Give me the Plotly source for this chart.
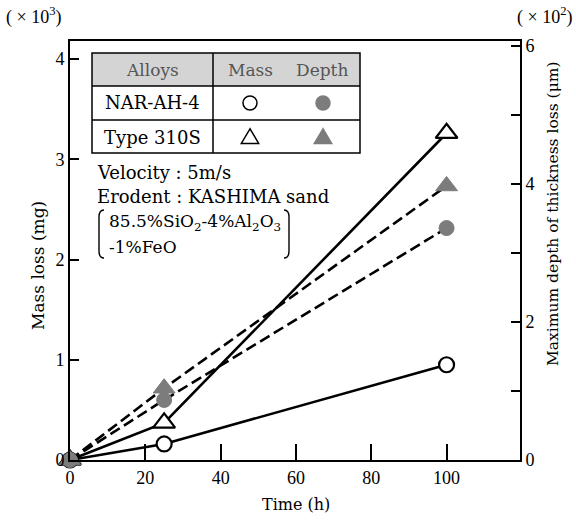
import plotly.graph_objects as go

# ---- data ----
time_h = [0, 25, 100]
mass_nar = [0, 0.16, 0.95]        # x10^3 mg
mass_310s = [0, 0.37, 3.26]       # x10^3 mg
depth_nar = [0, 0.87, 3.36]       # x10^2 um
depth_310s = [0, 1.04, 3.97]      # x10^2 um
x_ticks = [0, 20, 40, 60, 80, 100]
y_left_ticks = [0, 1, 2, 3, 4]
y_right_ticks = [0, 2, 4, 6]
y_right_minor = [1, 3, 5]

W, H = 576, 520
L, R, T, B = 70, 520, 41, 460
FONT = "DejaVu Serif"
TFONT = "Liberation Serif"
GRAY = "#7c7c7c"


def px(x):
    return (x - L) / (R - L)


def py(y):
    return (B - y) / (B - T)


fig = go.Figure()

fig.add_trace(go.Scatter(x=time_h, y=depth_310s, yaxis="y2", mode="lines+markers",
                         line=dict(color="black", width=2.6, dash="11px,5px"),
                         marker=dict(symbol="triangle-up", size=19, color=GRAY,
                                     line=dict(color=GRAY, width=1)),
                         cliponaxis=False, showlegend=False))
fig.add_trace(go.Scatter(x=time_h, y=depth_nar, yaxis="y2", mode="lines+markers",
                         line=dict(color="black", width=2.6, dash="11px,5px"),
                         marker=dict(symbol="circle", size=15, color=GRAY,
                                     line=dict(color=GRAY, width=1)),
                         cliponaxis=False, showlegend=False))
fig.add_trace(go.Scatter(x=time_h, y=mass_310s, mode="lines+markers",
                         line=dict(color="black", width=2.6),
                         marker=dict(symbol="triangle-up", size=19, color="white",
                                     line=dict(color="black", width=2.2)),
                         cliponaxis=False, showlegend=False))
fig.add_trace(go.Scatter(x=time_h, y=mass_nar, mode="lines+markers",
                         line=dict(color="black", width=2.6),
                         marker=dict(symbol="circle", size=15, color="white",
                                     line=dict(color="black", width=2.2)),
                         cliponaxis=False, showlegend=False))

shapes = []
# legend table
tx0, tx1, tx2 = 92, 213, 360
ty0, ty1, ty2, ty3 = 53, 86, 120, 153
shapes.append(dict(type="rect", xref="paper", yref="paper",
                   x0=px(tx0), x1=px(tx2), y0=py(ty1), y1=py(ty0),
                   fillcolor="#d4d4d4", line=dict(width=0), layer="above"))
shapes.append(dict(type="rect", xref="paper", yref="paper",
                   x0=px(tx0), x1=px(tx2), y0=py(ty3), y1=py(ty0),
                   fillcolor="rgba(0,0,0,0)", line=dict(color="black", width=1.5), layer="above"))
for yy in (ty1, ty2):
    shapes.append(dict(type="line", xref="paper", yref="paper",
                       x0=px(tx0), x1=px(tx2), y0=py(yy), y1=py(yy),
                       line=dict(color="black", width=1.5), layer="above"))
shapes.append(dict(type="line", xref="paper", yref="paper",
                   x0=px(tx1), x1=px(tx1), y0=py(ty3), y1=py(ty0),
                   line=dict(color="black", width=1.5), layer="above"))


def circ(cx, cy, r, fill, lc):
    return dict(type="circle", xref="paper", yref="paper",
                x0=px(cx - r), x1=px(cx + r), y0=py(cy + r), y1=py(cy - r),
                fillcolor=fill, line=dict(color=lc, width=1.5), layer="above")


def tri(cx, cy, s, fill, lc):
    pts = [(cx, cy - s * 0.62), (cx - s * 0.62, cy + s * 0.42), (cx + s * 0.62, cy + s * 0.42)]
    path = "M " + " L ".join(f"{px(a):.5f},{py(b):.5f}" for a, b in pts) + " Z"
    return dict(type="path", xref="paper", yref="paper", path=path,
                fillcolor=fill, line=dict(color=lc, width=1.5), layer="above")


shapes.append(circ(250, 103, 7, "white", "black"))
shapes.append(circ(323, 103, 7, GRAY, GRAY))
shapes.append(tri(250, 137.5, 14, "white", "black"))
shapes.append(tri(323, 137.5, 14, GRAY, GRAY))


def bracket(xs, y0, y1, d):
    path = (f"M {px(xs + d):.5f},{py(y0):.5f} Q {px(xs):.5f},{py(y0):.5f} {px(xs):.5f},{py(y0 + 7):.5f} "
            f"L {px(xs):.5f},{py(y1 - 7):.5f} Q {px(xs):.5f},{py(y1):.5f} {px(xs + d):.5f},{py(y1):.5f}")
    return dict(type="path", xref="paper", yref="paper", path=path,
                line=dict(color="black", width=1.4), layer="above")


shapes.append(bracket(99, 210, 258, 5))
shapes.append(bracket(289, 210, 258, -5))

ann = []


def text(x, y, s, size=18, xanchor="left", angle=0, color="black", family=FONT):
    ann.append(dict(xref="paper", yref="paper", x=px(x), y=py(y), text=s,
                    showarrow=False, xanchor=xanchor, yanchor="middle",
                    textangle=angle, font=dict(family=family, size=size, color=color)))


text(152, 70, "Alloys", xanchor="center", color="#555555", size=17)
text(250, 70, "Mass", xanchor="center", color="#555555", size=17)
text(322, 70, "Depth", xanchor="center", color="#555555", size=17)
text(152, 103, "NAR-AH-4", xanchor="center")
text(152, 137, "Type 310S", xanchor="center")
text(95, 172, "Velocity : 5m/s")
text(95, 196, "Erodent : KASHIMA sand")
text(107, 222, "85.5%SiO<sub>2</sub>-4%Al<sub>2</sub>O<sub>3</sub>", size=17)
text(107, 247, "-1%FeO", size=17)
text(38, 266, "Mass loss (mg)", xanchor="center", angle=-90, size=17)
text(553, 214, "Maximum depth of thickness loss (μm)", xanchor="center", angle=-90, size=15.5)
text(296, 505, "Time (h)", xanchor="center", size=16)
text(4, 16, "( × 10<sup>3</sup>)", size=18, family=TFONT)
text(574, 16, "( × 10<sup>2</sup>)", size=18, family=TFONT, xanchor="right")

fig.update_layout(
    width=W, height=H,
    margin=dict(l=L, r=W - R, t=T, b=H - B, pad=0),
    paper_bgcolor="white", plot_bgcolor="white",
    font=dict(family=TFONT, size=18, color="black"),
    shapes=shapes, annotations=ann,
    xaxis=dict(range=[0, 119.5], tickvals=x_ticks, ticks="inside", ticklen=16, tickwidth=2,
               tickcolor="black", showline=True, linecolor="black", linewidth=2,
               mirror=True, showgrid=False, zeroline=False,
               tickfont=dict(family=TFONT, size=18)),
    yaxis=dict(range=[0, 4.18], tickvals=y_left_ticks, ticks="inside", ticklen=9, tickwidth=2,
               tickcolor="black", showline=True, linecolor="black", linewidth=2,
               showgrid=False, zeroline=False, tickfont=dict(family=TFONT, size=18)),
    yaxis2=dict(range=[0, 6.07], tickvals=y_right_ticks, ticks="inside", ticklen=9, tickwidth=2,
                tickcolor="black", showline=True, linecolor="black", linewidth=2,
                overlaying="y", side="right", showgrid=False, zeroline=False,
                minor=dict(tickvals=y_right_minor, ticks="inside", ticklen=9, tickwidth=2,
                           tickcolor="black", showgrid=False),
                tickfont=dict(family=TFONT, size=18)),
)

fig.write_html("out.html", config={"displayModeBar": False},
               post_script="document.body.style.margin='0';")
